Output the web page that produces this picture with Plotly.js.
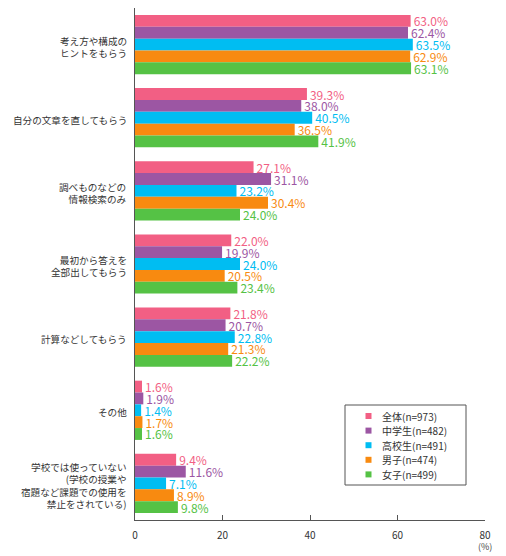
<!DOCTYPE html>
<html>
<head>
<meta charset="utf-8">
<script src="https://cdn.plot.ly/plotly-3.0.1.min.js"></script>
<style>
  html, body { margin: 0; padding: 0; background: #fff; }
  #chart { width: 506px; height: 556px; }
</style>
</head>
<body>
<div id="chart"></div>
<script>
// categories (top to bottom)
const categories = [
    '考え方や構成の<br>ヒントをもらう',
    '自分の文章を直してもらう',
    '調べものなどの<br>情報検索のみ',
    '最初から答えを<br>全部出してもらう',
    '計算などしてもらう',
    'その他',
    '学校では使っていない<br>(学校の授業や<br>宿題など課題での使用を<br>禁止をされている)'
]

const seriesNames = ['全体(n=973)', '中学生(n=482)', '高校生(n=491)', '男子(n=474)', '女子(n=499)']
const seriesColors = ['#f25f84', '#9c56a3', '#00bdf2', '#f88a10', '#55c245']

const allValues    = [63.0, 39.3, 27.1, 22.0, 21.8, 1.6, 9.4]
const juniorValues = [62.4, 38.0, 31.1, 19.9, 20.7, 1.9, 11.6]
const seniorValues = [63.5, 40.5, 23.2, 24.0, 22.8, 1.4, 7.1]
const boyValues    = [62.9, 36.5, 30.4, 20.5, 21.3, 1.7, 8.9]
const girlValues   = [63.1, 41.9, 24.0, 23.4, 22.2, 1.6, 9.8]

const xTicks = [0, 20, 40, 60, 80]

const FONT = '"Noto Sans CJK JP", "Noto Sans", sans-serif'
const W = 506, H = 556
const M = {l: 135, r: 21, t: 8, b: 36}
const seriesValues = [allValues, juniorValues, seniorValues, boyValues, girlValues]

// pixel -> paper helpers (for the hand-made legend box only)
const px = x => (x - M.l) / (W - M.l - M.r)
const py = y => (H - M.b - y) / (H - M.t - M.b)

var traces = []
for (var i = 0; i < seriesValues.length; i++) {
    traces.push({
        type: 'bar',
        orientation: 'h',
        name: seriesNames[i],
        y: categories,
        x: seriesValues[i],
        marker: {color: seriesColors[i], line: {width: 0}},
        text: seriesValues[i].map(v => v.toFixed(1) + '%'),
        textposition: 'outside',
        constraintext: 'none',
        textangle: 0,
        textfont: {family: FONT, size: 12, color: seriesColors[i]},
        cliponaxis: false,
        hoverinfo: 'x+name',
    })
}

// category labels: right aligned like the original
var annotations = categories.map(c => ({
    xref: 'paper', yref: 'y',
    x: 0, y: c,
    xshift: -6,
    yshift: -2,
    text: c,
    showarrow: false,
    align: 'right',
    xanchor: 'right', yanchor: 'middle',
    font: {family: FONT, size: 9.6, color: '#333'},
}))

annotations.push({
    xref: 'x', yref: 'paper',
    x: 80, y: 0,
    yshift: -26,
    text: '(%)',
    showarrow: false,
    font: {family: FONT, size: 9, color: '#444'},
    xanchor: 'center', yanchor: 'middle',
})

// legend (drawn by hand, the native one is too loose)
var shapes = [{
    type: 'rect', xref: 'paper', yref: 'paper',
    x0: px(345), x1: px(466), y0: py(485), y1: py(405),
    line: {color: '#555', width: 1}, fillcolor: '#fff',
}]
for (var i = 0; i < seriesNames.length; i++) {
    var yc = 416 + i * 14.6
    shapes.push({
        type: 'rect', xref: 'paper', yref: 'paper',
        x0: px(365.5), x1: px(371.5), y0: py(yc + 3), y1: py(yc - 3),
        line: {width: 0}, fillcolor: seriesColors[i],
    })
    annotations.push({
        xref: 'paper', yref: 'paper',
        x: px(380), y: py(yc),
        text: seriesNames[i],
        showarrow: false,
        xanchor: 'left', yanchor: 'middle',
        font: {family: FONT, size: 10, color: '#333'},
    })
}

var layout = {
    width: W,
    height: H,
    barmode: 'group',
    bargap: 0.19,
    bargroupgap: 0,
    showlegend: false,
    paper_bgcolor: '#fff',
    plot_bgcolor: '#fff',
    font: {family: FONT, size: 10, color: '#333'},
    margin: M,
    xaxis: {
        range: [0, 80],
        tickvals: xTicks,
        ticktext: xTicks.map(String),
        ticks: 'inside',
        ticklen: 5,
        tickcolor: '#555',
        showgrid: false,
        zeroline: false,
        showline: true,
        linecolor: '#555',
        linewidth: 1,
        ticklabelstandoff: 6,
        tickfont: {family: FONT, size: 10, color: '#333'},
        fixedrange: true,
    },
    yaxis: {
        autorange: 'reversed',
        ticks: '',
        showticklabels: false,
        showgrid: false,
        zeroline: false,
        showline: true,
        linecolor: '#555',
        linewidth: 1,
        fixedrange: true,
    },
    shapes: shapes,
    annotations: annotations,
}

Plotly.newPlot('chart', traces, layout, {displayModeBar: false, staticPlot: true})
</script>
</body>
</html>
